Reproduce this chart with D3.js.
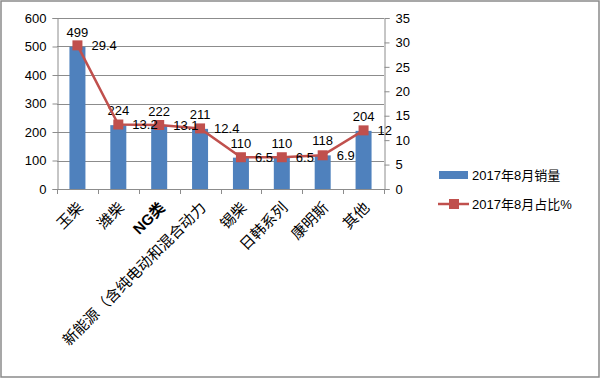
<!DOCTYPE html>
<html>
<head>
<meta charset="utf-8">
<script src="https://cdn.jsdelivr.net/npm/d3@7"></script>
<style>
  body { margin: 0; background: #fff; }
  svg { display: block; }
  text { font-family: "Liberation Sans", "Noto Sans CJK SC", sans-serif; fill: #000; }
</style>
</head>
<body>
<div id="container"></div>
<script>
var categories = ["玉柴", "潍柴", "NG类", "新能源（含纯电动和混合动力", "锡柴", "日韩系列", "康明斯", "其他"];
var sales = [499, 224, 222, 211, 110, 110, 118, 204];
var share = [29.4, 13.2, 13.1, 12.4, 6.5, 6.5, 6.9, 12];
var leftTicks = [0, 100, 200, 300, 400, 500, 600];
var rightTicks = [0, 5, 10, 15, 20, 25, 30, 35];
var seriesNames = ["2017年8月销量", "2017年8月占比%"];

var width = 600, height = 378;
var blue = "#4f81bd", red = "#c0504d", grid = "#8c8c8c";

var svg = d3.select("#container").append("svg")
    .attr("width", width)
    .attr("height", height);

// outer border
svg.append("rect")
    .attr("x", 1).attr("y", 1)
    .attr("width", width - 2).attr("height", height - 2)
    .attr("fill", "none")
    .attr("stroke", "#8a8a8a")
    .attr("stroke-width", 1.5);

var x = d3.scaleBand()
    .domain(categories)
    .range([57, 384]);

var y = d3.scaleLinear().domain([0, 600]).range([189, 18]);
var y2 = d3.scaleLinear().domain([0, 35]).range([189, 18]);

// gridlines
svg.append("g")
    .selectAll("line")
    .data(leftTicks.slice(1))
    .join("line")
    .attr("x1", 57).attr("x2", 384)
    .attr("y1", d => Math.round(y(d)) + 0.5)
    .attr("y2", d => Math.round(y(d)) + 0.5)
    .attr("stroke", grid)
    .attr("stroke-width", 1);

// left axis
var gl = svg.append("g")
    .attr("transform", "translate(57.5,0)")
    .call(d3.axisLeft(y).tickValues(leftTicks).tickSize(5).tickPadding(6));
gl.selectAll("text").style("font-size", "13px").attr("fill", "#000");

// right axis
var gr = svg.append("g")
    .attr("transform", "translate(384.5,0)")
    .call(d3.axisRight(y2).tickValues(rightTicks).tickSize(5).tickPadding(6));
gr.selectAll("text").style("font-size", "13px").attr("fill", "#000");

[gl, gr].forEach(function(g) {
  g.select(".domain").attr("stroke", grid);
  g.selectAll(".tick line").attr("stroke", grid);
});

// x axis baseline and ticks at category boundaries
var gx = svg.append("g");
gx.append("line")
    .attr("x1", 57).attr("x2", 384)
    .attr("y1", 189.5).attr("y2", 189.5)
    .attr("stroke", grid);
gx.selectAll("line.tk")
    .data(categories.concat([null]))
    .join("line")
    .attr("class", "tk")
    .attr("x1", (d, i) => Math.round(57 + i * x.bandwidth()) + 0.5)
    .attr("x2", (d, i) => Math.round(57 + i * x.bandwidth()) + 0.5)
    .attr("y1", 189).attr("y2", 194)
    .attr("stroke", grid);

// category labels
gx.selectAll("text.cat")
    .data(categories)
    .join("text")
    .attr("class", "cat")
    .attr("transform", d => "translate(" + (x(d) + x.bandwidth() / 2 + 3) + ",205) rotate(-45)")
    .attr("text-anchor", "end")
    .attr("dy", "0.35em")
    .style("font-size", "15px")
    .style("font-family", d => d === "NG类" ? "'Liberation Sans', 'Noto Sans CJK SC'" : "'Noto Sans CJK SC'")
    .style("font-weight", d => d === "NG类" ? "bold" : "normal")
    .text(d => d);

// bars
var barW = 16;
svg.append("g")
    .selectAll("rect")
    .data(sales)
    .join("rect")
    .attr("x", (d, i) => x(categories[i]) + x.bandwidth() / 2 - barW / 2)
    .attr("y", d => y(d))
    .attr("width", barW)
    .attr("height", d => y(0) - y(d))
    .attr("fill", blue);

// bar labels
svg.append("g")
    .selectAll("text")
    .data(sales)
    .join("text")
    .attr("x", (d, i) => x(categories[i]) + x.bandwidth() / 2)
    .attr("y", d => y(d) - 10)
    .attr("text-anchor", "middle")
    .style("font-size", "13px")
    .text(d => d);

// line
var line = d3.line()
    .x((d, i) => x(categories[i]) + x.bandwidth() / 2)
    .y(d => y2(d));

svg.append("path")
    .datum(share)
    .attr("d", line)
    .attr("fill", "none")
    .attr("stroke", red)
    .attr("stroke-width", 2.5);

svg.append("g")
    .selectAll("rect")
    .data(share)
    .join("rect")
    .attr("x", (d, i) => x(categories[i]) + x.bandwidth() / 2 - 5)
    .attr("y", d => y2(d) - 5)
    .attr("width", 10).attr("height", 10)
    .attr("fill", red);

svg.append("g")
    .selectAll("text")
    .data(share)
    .join("text")
    .attr("x", (d, i) => x(categories[i]) + x.bandwidth() / 2 + 14)
    .attr("y", d => y2(d))
    .attr("dy", "0.35em")
    .style("font-size", "13px")
    .text(d => d);

// legend
var lg = svg.append("g");
lg.append("rect")
    .attr("x", 439).attr("y", 171)
    .attr("width", 29).attr("height", 8)
    .attr("fill", blue);
lg.append("text")
    .attr("x", 472).attr("y", 175).attr("dy", "0.35em")
    .style("font-size", "13px")
    .text(seriesNames[0]);
lg.append("line")
    .attr("x1", 438).attr("x2", 469)
    .attr("y1", 204).attr("y2", 204)
    .attr("stroke", red).attr("stroke-width", 2.5);
lg.append("rect")
    .attr("x", 449).attr("y", 199)
    .attr("width", 10).attr("height", 10)
    .attr("fill", red);
lg.append("text")
    .attr("x", 472).attr("y", 204).attr("dy", "0.35em")
    .style("font-size", "13px")
    .text(seriesNames[1]);
</script>
</body>
</html>
